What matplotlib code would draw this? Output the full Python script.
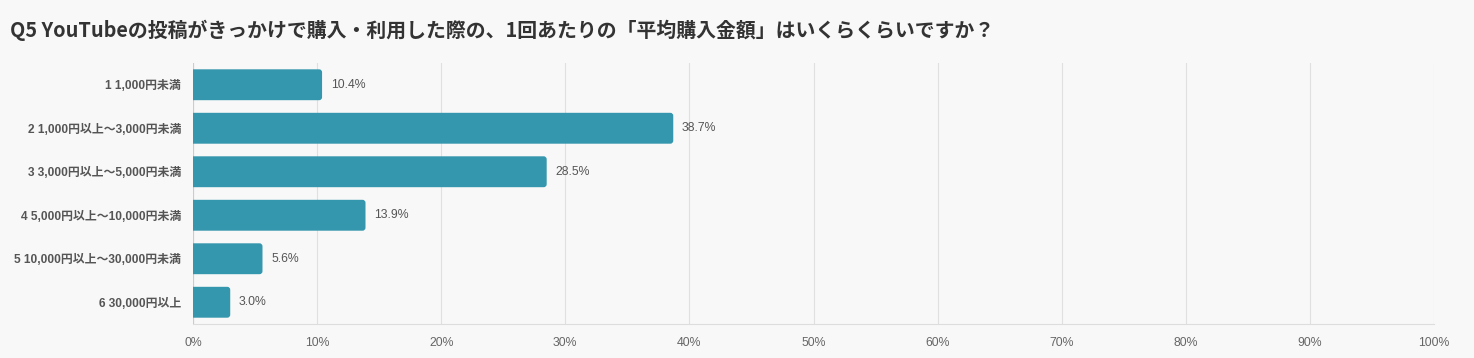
import matplotlib
matplotlib.use("Agg")
import matplotlib.pyplot as plt
from matplotlib.patches import PathPatch
from matplotlib.path import Path

plt.rcParams['font.family'] = ['Noto Sans CJK JP', 'DejaVu Sans']

title = "Q5 YouTubeの投稿がきっかけで購入・利用した際の、1回あたりの「平均購入金額」はいくらくらいですか？"
categories = ["1 1,000円未満", "2 1,000円以上〜3,000円未満", "3 3,000円以上〜5,000円未満",
              "4 5,000円以上〜10,000円未満", "5 10,000円以上〜30,000円未満", "6 30,000円以上"]
values = [10.4, 38.7, 28.5, 13.9, 5.6, 3.0]
ticks = [0, 10, 20, 30, 40, 50, 60, 70, 80, 90, 100]
tick_labels = [f"{t}%" for t in ticks]

W, H = 1474, 358
fig = plt.figure(figsize=(W / 100, H / 100), dpi=100)
bg = "#f8f8f8"
fig.patch.set_facecolor(bg)
ax_l, ax_r, ax_t, ax_b = 193, 1434, 63, 324
ax = fig.add_axes([ax_l / W, 1 - ax_b / H, (ax_r - ax_l) / W, (ax_b - ax_t) / H])
ax.set_facecolor(bg)

bar_color = "#3497ad"
ypos = list(range(len(categories)))
bar_h = 0.71
bars = ax.barh(ypos, values, height=bar_h, color=bar_color, zorder=3)
ax.set_ylim(len(categories) - 0.5, -0.5)
ax.set_xlim(0, 100)

# rounded right corners (3 px radius), square left corners
px_per_x = (ax_r - ax_l) / 100.0
px_per_y = (ax_b - ax_t) / len(categories)
rx = 3.0 / px_per_x
ry = 3.0 / px_per_y
for b in bars:
    x0, y0, w, h = b.get_x(), b.get_y(), b.get_width(), b.get_height()
    b.set_visible(False)
    x1, y1 = x0 + w, y0 + h
    verts = [(x0, y0), (x1 - rx, y0), (x1, y0), (x1, y0 + ry), (x1, y1 - ry),
             (x1, y1), (x1 - rx, y1), (x0, y1), (x0, y0)]
    codes = [Path.MOVETO, Path.LINETO, Path.CURVE3, Path.CURVE3, Path.LINETO,
             Path.CURVE3, Path.CURVE3, Path.LINETO, Path.CLOSEPOLY]
    ax.add_patch(PathPatch(Path(verts, codes), facecolor=bar_color, edgecolor="none", zorder=3))

lat = ['Liberation Sans', 'Noto Sans CJK JP']
for y, v in zip(ypos, values):
    ax.text(v + 0.7, y, f"{v:.1f}%", va="center", ha="left", fontsize=8.8,
            color="#555555", family=lat, zorder=4)

ax.set_yticks(ypos)
ax.set_yticklabels(categories, fontsize=8.55, fontweight="bold", color="#555555", family=lat)
ax.set_xticks(ticks)
ax.set_xticklabels(tick_labels, fontsize=8.8, color="#666666", family=lat)
ax.tick_params(axis="both", length=0)
ax.tick_params(axis="y", pad=8.5)
ax.tick_params(axis="x", pad=9)
ax.grid(axis="x", color="#e0e0e0", linewidth=0.8, zorder=0)
for s in ["top", "right", "left"]:
    ax.spines[s].set_visible(False)
ax.spines["bottom"].set_color("#dddddd")
ax.spines["bottom"].set_linewidth(0.8)
ax.axvline(0, color="#cccccc", linewidth=0.8, zorder=2)

fig.text(10 / W, 1 - 30 / H, title, fontsize=14.3, fontweight="bold", color="#333333",
         va="center", ha="left")

fig.savefig("out.png", dpi=100, facecolor=bg)
